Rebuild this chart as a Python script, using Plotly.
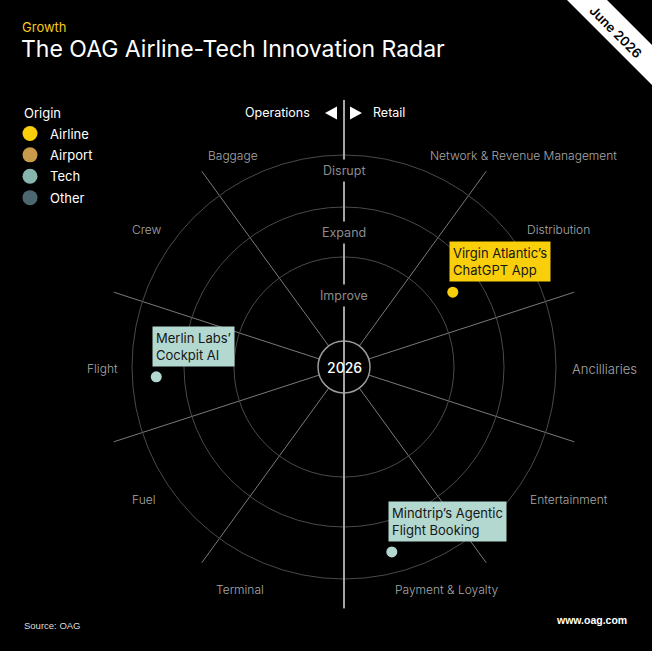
import math
import plotly.graph_objects as go

# ---------------- data ----------------
sectors = ["Network & Revenue Management", "Distribution", "Ancilliaries", "Entertainment",
           "Payment & Loyalty", "Terminal", "Fuel", "Flight", "Crew", "Baggage"]
sector_step = 36  # degrees per sector, clockwise from north

rings = ["Improve", "Expand", "Disrupt"]
ring_outer = [110, 160, 212]
ring_mid = [72, 135, 197]

origins = ["Airline", "Airport", "Tech", "Other"]
origin_colors = ["#f9cf0c", "#c89b4a", "#86b6ad", "#4d6770"]
point_colors = {"Airline": "#f9cf0c", "Airport": "#c89b4a", "Tech": "#b2d8d0", "Other": "#4d6770"}
box_colors = {"Airline": "#f9cf0c", "Airport": "#c89b4a", "Tech": "#b2d8d0", "Other": "#4d6770"}

innov_names = ["Virgin Atlantic’s<br>ChatGPT App", "Merlin Labs’<br>Cockpit AI",
               "Mindtrip’s Agentic<br>Flight Booking"]
innov_origin = ["Airline", "Tech", "Tech"]
innov_r = [132, 188, 191]
innov_theta = [55.5, 267.0, 165.5]

year_label = "2026"

# ---------------- layout geometry ----------------
W, H = 652, 651
CX, CY, R, HOLE = 344, 367, 242, 26


def px(x):
    return x / W


def py(y):
    return 1 - y / H


dom_x = [px(CX - R), px(CX + R)]
dom_y = [py(CY + R), py(CY - R)]

FONT = "Inter, Roboto, sans-serif"
fig = go.Figure()

# legend-only traces
for name, col in zip(origins, origin_colors):
    fig.add_trace(go.Scatterpolar(r=[None], theta=[None], mode="markers", name=name,
                                  legendgroup=name,
                                  marker=dict(size=15, color=col), subplot="polar"))

# innovation points
for o in origins:
    idx = [i for i, v in enumerate(innov_origin) if v == o]
    if not idx:
        continue
    fig.add_trace(go.Scatterpolar(r=[innov_r[i] for i in idx], theta=[innov_theta[i] for i in idx],
                                  mode="markers", showlegend=False,
                                  marker=dict(size=11, color=point_colors[o]),
                                  hoverinfo="skip", subplot="polar"))

# invisible trace on overlay cartesian axes (to instantiate them)
fig.add_trace(go.Scatter(x=[None], y=[None], showlegend=False, xaxis="x", yaxis="y"))

annotations = []
shapes = []

# ring labels
for name, rm in zip(rings, ring_mid):
    annotations.append(dict(xref="x", yref="y", x=0, y=rm, text=name, showarrow=False,
                            bgcolor="black", borderpad=3,
                            font=dict(family=FONT, size=12.5, color="#8c8c8c")))

# sector labels (layout positions, pixel)
sector_label_pos = {
    "Network & Revenue Management": (523, 155, 12),
    "Distribution": (558, 229, 12),
    "Ancilliaries": (604, 369, 13),
    "Entertainment": (569, 499, 12),
    "Payment & Loyalty": (447, 589, 12),
    "Terminal": (240, 589, 12),
    "Fuel": (143, 499, 12),
    "Flight": (102, 368, 12),
    "Crew": (147, 229, 12),
    "Baggage": (233, 156, 12),
}
for s in sectors:
    x, y, fs = sector_label_pos[s]
    annotations.append(dict(xref="paper", yref="paper", x=px(x), y=py(y), text=s, showarrow=False,
                            xanchor="center", yanchor="middle",
                            font=dict(family=FONT, size=fs, color="#a8a8a8", weight=300)))

# innovation labels
for name, o, r, t in zip(innov_names, innov_origin, innov_r, innov_theta):
    a = math.radians(t)
    annotations.append(dict(xref="x", yref="y", x=r * math.sin(a), y=r * math.cos(a),
                            text=name, showarrow=False, xanchor="left", yanchor="bottom",
                            xshift=-4, yshift=10, align="left", bgcolor=box_colors[o], borderpad=3,
                            font=dict(family=FONT, size=13, color="#161616")))

# center circle + year
shapes.append(dict(type="circle", xref="x", yref="y", x0=-HOLE, x1=HOLE, y0=-HOLE, y1=HOLE,
                   line=dict(color="#9a9a9a", width=1.5), fillcolor="black", layer="above"))
annotations.append(dict(xref="x", yref="y", x=0, y=0, text=year_label, showarrow=False,
                        font=dict(family=FONT, size=14, color="white", weight=500)))

# vertical divider (Operations | Retail)
shapes.append(dict(type="line", xref="paper", yref="paper", x0=px(CX), x1=px(CX),
                   y0=py(100), y1=py(CY + R - 1), line=dict(color="#a6a6a6", width=2), layer="above"))
# arrows
shapes.append(dict(type="path", xref="paper", yref="paper",
                   path=f"M {px(325)},{py(113)} L {px(337)},{py(106.5)} L {px(337)},{py(119.5)} Z",
                   fillcolor="white", line=dict(width=0)))
shapes.append(dict(type="path", xref="paper", yref="paper",
                   path=f"M {px(362)},{py(113)} L {px(350)},{py(106.5)} L {px(350)},{py(119.5)} Z",
                   fillcolor="white", line=dict(width=0)))
annotations.append(dict(xref="paper", yref="paper", x=px(312), y=py(113), text="Operations",
                        showarrow=False, xanchor="right", yanchor="middle",
                        font=dict(family=FONT, size=12.5, color="white", weight=400)))
annotations.append(dict(xref="paper", yref="paper", x=px(371), y=py(113), text="Retail",
                        showarrow=False, xanchor="left", yanchor="middle",
                        font=dict(family=FONT, size=12.5, color="white", weight=400)))

# titles
annotations.append(dict(xref="paper", yref="paper", x=px(21), y=py(26.5), text="Growth", showarrow=False,
                        xanchor="left", yanchor="middle", borderpad=0,
                        font=dict(family=FONT, size=13, color="#f5cb1a")))
annotations.append(dict(xref="paper", yref="paper", x=px(20), y=py(48.5),
                        text="The OAG Airline-Tech Innovation Radar", showarrow=False,
                        xanchor="left", yanchor="middle", borderpad=0,
                        font=dict(family=FONT, size=23, color="white")))

# legend title
annotations.append(dict(xref="paper", yref="paper", x=px(22), y=py(113), text="Origin", showarrow=False,
                        xanchor="left", yanchor="middle",
                        font=dict(family=FONT, size=13, color="white")))

# corner banner
shapes.append(dict(type="path", xref="paper", yref="paper",
                   path=f"M {px(567)},{py(0)} L {px(607)},{py(0)} L {px(652)},{py(45)} L {px(652)},{py(85)} Z",
                   fillcolor="white", line=dict(width=0)))
annotations.append(dict(xref="paper", yref="paper", x=px(616), y=py(32), text="June 2026",
                        showarrow=False, textangle=45, xanchor="center", yanchor="middle",
                        font=dict(family=FONT, size=13, color="black", weight=600)))

# footer
annotations.append(dict(xref="paper", yref="paper", x=px(22), y=py(625), text="Source: OAG",
                        showarrow=False, xanchor="left", yanchor="middle",
                        font=dict(family="Liberation Sans, Arial, sans-serif", size=9.5, color="#dddddd")))
annotations.append(dict(xref="paper", yref="paper", x=px(629), y=py(620), text="www.oag.com",
                        showarrow=False, xanchor="right", yanchor="middle",
                        font=dict(family="Liberation Sans, Arial, sans-serif", size=10.5, color="white",
                                  weight="bold")))

fig.update_layout(
    width=W, height=H,
    margin=dict(l=0, r=0, t=0, b=0),
    paper_bgcolor="black", plot_bgcolor="rgba(0,0,0,0)",
    font=dict(family=FONT, color="white"),
    polar=dict(
        domain=dict(x=dom_x, y=dom_y),
        bgcolor="black",
        hole=HOLE / R,
        radialaxis=dict(range=[HOLE, R], tickvals=ring_outer, showticklabels=False, ticks="",
                        showline=False, gridcolor="#4a4a4a", gridwidth=1),
        angularaxis=dict(direction="clockwise", rotation=90, tickmode="array",
                         tickvals=[i * sector_step for i in range(len(sectors))],
                         showticklabels=False, ticks="", showline=False,
                         gridcolor="#7a7a7a", gridwidth=1),
    ),
    xaxis=dict(domain=dom_x, range=[-R, R], visible=False, fixedrange=True),
    yaxis=dict(domain=dom_y, range=[-R, R], visible=False, fixedrange=True),
    showlegend=True,
    legend=dict(x=px(10), y=py(118.5), xanchor="left", yanchor="top",
                bgcolor="rgba(0,0,0,0)", traceorder="grouped", tracegroupgap=1.5,
                font=dict(family=FONT, size=13, color="white"), itemsizing="trace"),
    annotations=annotations,
    shapes=shapes,
)

fig.write_html("out.html")
